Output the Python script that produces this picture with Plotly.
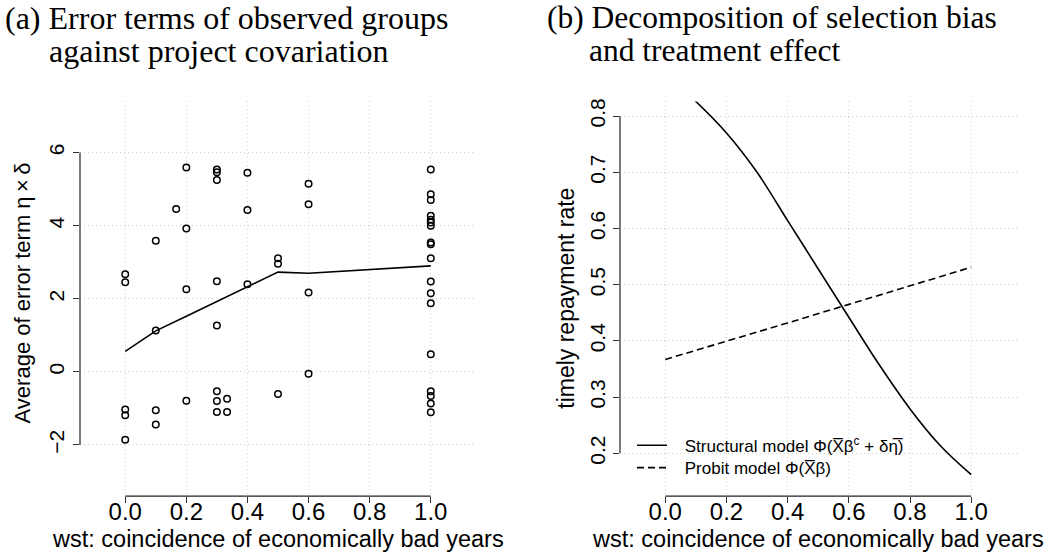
import plotly.graph_objects as go

W, H = 1050, 557

# ---------------- data ----------------
# Panel (a): observed groups, error term average vs wst
grp_wst = [0.0, 0.0, 0.0, 0.0, 0.0,
           0.1, 0.1, 0.1, 0.1,
           1/6,
           0.2, 0.2, 0.2, 0.2,
           0.3, 0.3, 0.3, 0.3, 0.3, 0.3, 0.3, 0.3,
           1/3, 1/3,
           0.4, 0.4, 0.4,
           0.5, 0.5, 0.5,
           0.6, 0.6, 0.6, 0.6,
           1.0, 1.0, 1.0, 1.0, 1.0, 1.0, 1.0, 1.0, 1.0, 1.0, 1.0, 1.0, 1.0, 1.0, 1.0, 1.0, 1.0, 1.0]
grp_err = [2.67, 2.45, -1.03, -1.19, -1.86,
           3.59, 1.13, -1.05, -1.44,
           4.46,
           5.59, 3.92, 2.26, -0.79,
           5.54, 5.46, 5.25, 2.48, 1.27, -0.53, -0.80, -1.10,
           -0.74, -1.10,
           5.45, 4.43, 2.40,
           3.11, 2.96, -0.61,
           5.15, 4.59, 2.17, -0.05,
           5.54, 4.86, 4.70, 4.27, 4.16, 4.09, 4.00, 3.54, 3.49, 3.11, 2.47, 2.15, 1.88, 0.48, -0.53, -0.66, -0.87, -1.11]

avg_wst = [0.0, 0.1, 0.2, 0.3, 0.4, 0.5, 0.6, 1.0]
avg_err = [0.56, 1.12, 1.52, 1.93, 2.33, 2.73, 2.70, 2.90]

# Panel (b): repayment rate curves
curve_wst = [0.0, 0.1, 0.2, 0.3, 0.4, 0.5, 0.6, 0.7, 0.8, 0.9, 1.0]
structural = [0.875, 0.826, 0.770, 0.700, 0.614, 0.528, 0.442, 0.357, 0.279, 0.213, 0.162]
probit_wst = [0.0, 0.2, 0.4, 0.6, 0.8, 1.0]
probit_val = [0.367, 0.399, 0.432, 0.465, 0.498, 0.531]

x_ticks = [0.0, 0.2, 0.4, 0.6, 0.8, 1.0]
x_ticktext = ["0.0", "0.2", "0.4", "0.6", "0.8", "1.0"]
ya_ticks = [-2, 0, 2, 4, 6]
ya_ticktext = ["\u22122", "0", "2", "4", "6"]
yb_ticks = [0.2, 0.3, 0.4, 0.5, 0.6, 0.7, 0.8]
yb_ticktext = ["0.2", "0.3", "0.4", "0.5", "0.6", "0.7", "0.8"]

# ---------------- layout geometry (pixels) ----------------
AX_L0, AX_L1 = 80, 476
AX_R0, AX_R1 = 620, 1016.5
AX_TOP, AX_BOT = 99, 495.7


def px(x):
    return x / W


def py(y):
    return 1 - y / H


SANS = "Liberation Sans, Arial, Helvetica, sans-serif"
SERIF = "Liberation Serif, Times New Roman, serif"
GAP = "\u2002\u2005"

fig = go.Figure()

fig.add_trace(go.Scatter(
    x=grp_wst, y=grp_err, mode="markers", xaxis="x", yaxis="y",
    marker=dict(symbol="circle-open", size=6.5, color="black", line=dict(width=1.5, color="black")),
    showlegend=False))
fig.add_trace(go.Scatter(
    x=avg_wst, y=avg_err, mode="lines", xaxis="x", yaxis="y",
    line=dict(color="black", width=1.6), showlegend=False))

fig.add_trace(go.Scatter(
    x=curve_wst, y=structural, mode="lines", xaxis="x2", yaxis="y2",
    line=dict(color="black", width=1.6, shape="spline"), legend="legend",
    name=GAP + "Structural model \u03a6(X\u0305\u03b2<sup>c</sup> + \u03b4\u03b7\u0305)"))
fig.add_trace(go.Scatter(
    x=probit_wst, y=probit_val, mode="lines", xaxis="x2", yaxis="y2",
    line=dict(color="black", width=1.6, dash="7px,4px"), legend="legend2",
    name=GAP + "Probit model \u03a6(X\u0305\u03b2)"))

common = dict(showgrid=True, gridcolor="#cfcfcf", griddash="1px,3px", gridwidth=1,
              zeroline=False, showline=False, ticks="outside", ticklen=6,
              tickcolor="#333333", tickwidth=1)
xfont = dict(family=SANS, size=24, color="black")
yfont = dict(family=SANS, size=21, color="black")

leg_common = dict(xanchor="left", yanchor="top", bgcolor="rgba(0,0,0,0)",
                  font=dict(family=SANS, size=17, color="black"))

fig.update_layout(
    width=W, height=H,
    margin=dict(l=0, r=0, t=0, b=0),
    paper_bgcolor="white", plot_bgcolor="white",
    xaxis=dict(domain=[px(AX_L0), px(AX_L1)], range=[-0.148, 1.148],
               tickvals=x_ticks, ticktext=x_ticktext, anchor="y",
               tickfont=xfont, ticklabelstandoff=-12, **common),
    yaxis=dict(domain=[py(AX_BOT), py(AX_TOP)], range=[-3.4, 7.4],
               tickvals=ya_ticks, ticktext=ya_ticktext, tickangle=-90, anchor="x",
               tickfont=yfont, ticklabelstandoff=1, **common),
    xaxis2=dict(domain=[px(AX_R0), px(AX_R1)], range=[-0.148, 1.148],
                tickvals=x_ticks, ticktext=x_ticktext, anchor="y2",
                tickfont=xfont, ticklabelstandoff=-12, **common),
    yaxis2=dict(domain=[py(AX_BOT), py(AX_TOP)], range=[0.124, 0.826],
                tickvals=yb_ticks, ticktext=yb_ticktext, tickangle=-90, anchor="x2",
                tickfont=yfont, **common),
    legend=dict(x=px(632), y=py(427), **leg_common),
    legend2=dict(x=px(632), y=py(449.5), **leg_common),
    showlegend=True,
)

# R-style axis lines (only from first to last tick)
line_style = dict(color="#222222", width=1.2)
fig.add_shape(type="line", xref="paper", yref="y", x0=px(AX_L0), x1=px(AX_L0),
              y0=ya_ticks[0], y1=ya_ticks[-1], line=line_style)
fig.add_shape(type="line", xref="x", yref="paper", x0=x_ticks[0], x1=x_ticks[-1],
              y0=py(AX_BOT), y1=py(AX_BOT), line=line_style)
fig.add_shape(type="line", xref="paper", yref="y2", x0=px(AX_R0), x1=px(AX_R0),
              y0=yb_ticks[0], y1=yb_ticks[-1], line=line_style)
fig.add_shape(type="line", xref="x2", yref="paper", x0=x_ticks[0], x1=x_ticks[-1],
              y0=py(AX_BOT), y1=py(AX_BOT), line=line_style)

# Axis titles
lab_font = dict(family=SANS, size=23.5, color="black")
fig.add_annotation(text="wst: coincidence of economically bad years", xref="paper", yref="paper",
                   x=px((AX_L0 + AX_L1) / 2), y=py(539), xanchor="center", yanchor="middle",
                   showarrow=False, font=lab_font)
fig.add_annotation(text="wst: coincidence of economically bad years", xref="paper", yref="paper",
                   x=px((AX_R0 + AX_R1) / 2), y=py(539), xanchor="center", yanchor="middle",
                   showarrow=False, font=lab_font)
fig.add_annotation(text="Average of error term \u03b7\u2009\u00d7\u2009\u03b4", xref="paper", yref="paper",
                   x=px(22), y=py(292), xanchor="center", yanchor="middle",
                   textangle=-90, showarrow=False, font=dict(family=SANS, size=22, color="black"))
fig.add_annotation(text="timely repayment rate", xref="paper", yref="paper",
                   x=px(566), y=py((AX_TOP + AX_BOT) / 2), xanchor="center", yanchor="middle",
                   textangle=-90, showarrow=False, font=dict(family=SANS, size=23, color="black"))

# Panel titles
titles = [
    (3, 15, 32, "(a) Error terms of observed groups"),
    (47, 48, 32, "against project covariation"),
    (545, 15, 31.5, "(b) Decomposition of selection bias"),
    (587, 48, 31.5, "and treatment effect"),
]
for x0, y0, fs, txt in titles:
    fig.add_annotation(text=txt, xref="paper", yref="paper", x=px(x0), y=py(y0),
                       xanchor="left", yanchor="middle", showarrow=False,
                       font=dict(family=SERIF, size=fs, color="black"))

fig.write_html("out.html", config={"displayModeBar": False},
               post_script="document.body.style.margin='0px';document.body.style.overflow='hidden';")
